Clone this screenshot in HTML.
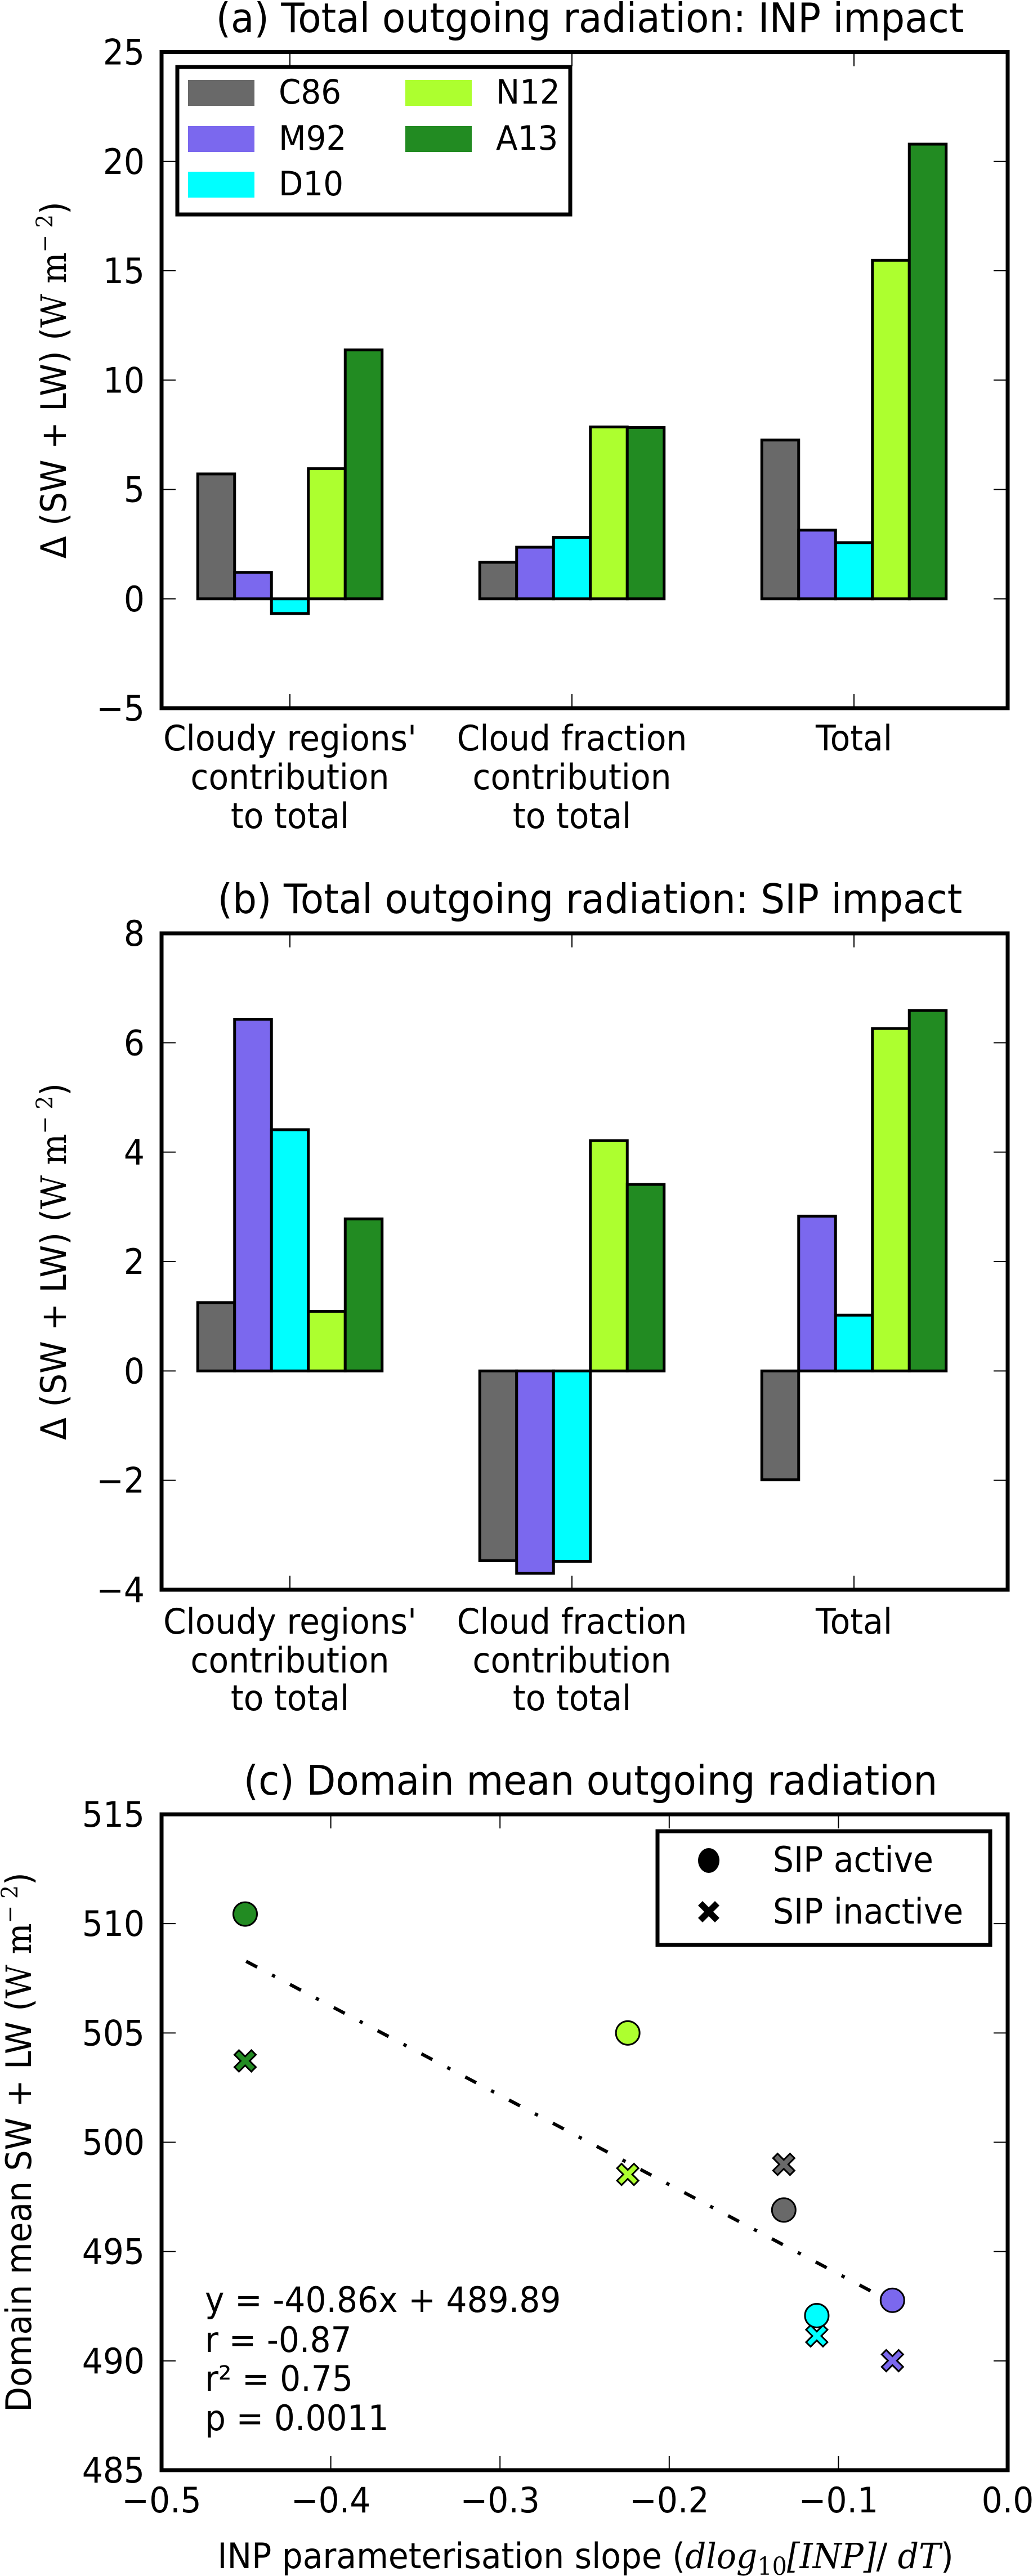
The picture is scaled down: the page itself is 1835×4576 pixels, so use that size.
<!DOCTYPE html>
<html><head><meta charset="utf-8">
<style>
html,body{margin:0;padding:0;background:#fff;}
svg{display:block;}
text{font-family:"DejaVu Sans","Liberation Sans",sans-serif;fill:#000;}
.serif{font-family:"DejaVu Serif","Liberation Serif",serif;font-style:italic;}
</style></head>
<body>
<svg id="fig" width="1835" height="4576" viewBox="0 0 1835 4576" xmlns="http://www.w3.org/2000/svg">
<g id="pa"></g>
<g id="pb"></g>
<g id="pc"></g>
</svg>
<script>
const schemes = ["C86","M92","D10","N12","A13"];
const colors = ["#696969","#7B68EE","#00FFFF","#ADFF2F","#228B22"];
const categories = [["Cloudy regions'","contribution","to total"],["Cloud fraction","contribution","to total"],["Total"]];
// Panel (a) values per category: [C86, M92, D10, N12, A13]
const inpCloudy = [5.71, 1.21, -0.67, 5.95, 11.38];
const inpFraction = [1.67, 2.36, 2.81, 7.86, 7.83];
const inpTotal = [7.26, 3.14, 2.57, 15.48, 20.79];
const inpTicks = [-5,0,5,10,15,20,25];
// Panel (b)
const sipCloudy = [1.25, 6.43, 4.41, 1.09, 2.78];
const sipFraction = [-3.47, -3.70, -3.48, 4.21, 3.41];
const sipTotal = [-1.99, 2.83, 1.02, 6.26, 6.59];
const sipTicks = [-4,-2,0,2,4,6,8];
// Panel (c)
const slopes = [-0.1323, -0.0681, -0.1128, -0.2245, -0.4506];
const sipActive = [496.9, 492.77, 492.07, 505.0, 510.44];
const sipInactive = [498.99, 490.01, 491.14, 498.53, 503.72];
const fitSlope = -40.86, fitIntercept = 489.89;
const fitRange = [-0.45, -0.068];
const cYTicks = [485,490,495,500,505,510,515];
const cXTicks = [-0.5,-0.4,-0.3,-0.2,-0.1,0.0];
const cXTickLabels = ["\u22120.5","\u22120.4","\u22120.3","\u22120.2","\u22120.1","0.0"];
const statLines = ["y = -40.86x + 489.89","r = -0.87","r\u00b2 = 0.75","p = 0.0011"];

const NS="http://www.w3.org/2000/svg";
const SX=0.94;
function mk(parent,tag,attrs,txt){const e=document.createElementNS(NS,tag);for(const k in attrs)e.setAttribute(k,attrs[k]);if(txt!==undefined)e.textContent=txt;parent.appendChild(e);return e;}
function tx(parent,x,y,size,anchor,str){
  return mk(parent,'text',{x:0,y:0,'font-size':size,'text-anchor':anchor,transform:`translate(${x},${y}) scale(${SX},1)`},str);
}
const L=287,R=1790;

function ylabelBar(g,cy){
  const t=mk(g,'text',{x:0,y:0,'font-size':62,'text-anchor':'middle',transform:`translate(117,${cy}) rotate(-90) scale(${SX},1)`});
  
  
  mk(t,'tspan',{},'\u0394 (SW + LW)  (');
  mk(t,'tspan',{'font-family':'DejaVu Serif, Liberation Serif, serif'},'W  m');
  mk(t,'tspan',{'font-family':'DejaVu Serif, Liberation Serif, serif','font-size':40,dy:-24},'\u2212 2');
  mk(t,'tspan',{dy:24},')');
}

function barPanel(g,title,titleY,top,bottom,ymin,ymax,ticks,series,labelYs,withLegend){
  const y=v=>top+(ymax-v)/(ymax-ymin)*(bottom-top);
  const tt=tx(g,1048,titleY,72,'middle',title);
  
  
  const centers=[515,1016,1517], bw=65.5;
  series.forEach((vals,ci)=>{
    vals.forEach((v,si)=>{
      const x0=centers[ci]-2.5*bw+si*bw;
      const r=mk(g,'rect',{x:x0,y:Math.min(y(v),y(0)),width:bw,height:Math.abs(y(v)-y(0)),fill:colors[si],stroke:'#000','stroke-width':5});
      
      
    });
    categories[ci].forEach((line,li)=>{
      const t=tx(g,centers[ci],labelYs[li],62,'middle',line);
      
      
    });
    mk(g,'line',{x1:centers[ci],x2:centers[ci],y1:top,y2:top+25,stroke:'#000','stroke-width':2});
    mk(g,'line',{x1:centers[ci],x2:centers[ci],y1:bottom,y2:bottom-25,stroke:'#000','stroke-width':2});
  });
  ticks.forEach(v=>{
    const yy=y(v);
    mk(g,'line',{x1:L,x2:L+25,y1:yy,y2:yy,stroke:'#000','stroke-width':2});
    mk(g,'line',{x1:R,x2:R-25,y1:yy,y2:yy,stroke:'#000','stroke-width':2});
    const t=tx(g,257,yy+22,62,'end',v<0?'\u2212'+Math.abs(v):String(v));
    
    
  });
  const fr=mk(g,'rect',{x:L,y:top,width:R-L,height:bottom-top,fill:'none',stroke:'#000','stroke-width':7});
  
  
  ylabelBar(g,(top+bottom)/2);
  if(withLegend){
    const lg=mk(g,'g',{});
    
    
    mk(lg,'rect',{x:315,y:119,width:698,height:262,fill:'#fff',stroke:'#000','stroke-width':7});
    const pos=[[334,142],[334,224],[334,305],[720,142],[720,224]];
    schemes.forEach((s,i)=>{
      const e=mk(lg,'g',{});
      
      
      mk(e,'rect',{x:pos[i][0],y:pos[i][1],width:118,height:46,fill:colors[i]});
      tx(e,pos[i][0]+161,pos[i][1]+42,60,'start',s);
    });
  }
}

barPanel(document.getElementById('pa'),'(a) Total outgoing radiation: INP impact',57,92.5,1258,-5,25,inpTicks,[inpCloudy,inpFraction,inpTotal],[1333,1402,1471],true);
barPanel(document.getElementById('pb'),'(b) Total outgoing radiation: SIP impact',1622,1658,2824,-4,8,sipTicks,[sipCloudy,sipFraction,sipTotal],[2902,2971,3038],false);

// Panel c
(function(){
  const g=document.getElementById('pc');
  const top=3223,bottom=4388;
  const xs=v=>L+(v+0.5)/0.5*(R-L);
  const ys=v=>top+(515-v)/30*(bottom-top);
  const tt=tx(g,1049,3188,72,'middle','(c) Domain mean outgoing radiation');
  
  
  cYTicks.forEach(v=>{
    const yy=ys(v);
    mk(g,'line',{x1:L,x2:L+25,y1:yy,y2:yy,stroke:'#000','stroke-width':2});
    mk(g,'line',{x1:R,x2:R-25,y1:yy,y2:yy,stroke:'#000','stroke-width':2});
    const t=tx(g,257,yy+22,62,'end',String(v));
    
    
  });
  cXTicks.forEach((v,i)=>{
    const xx=xs(v);
    mk(g,'line',{x1:xx,x2:xx,y1:top,y2:top+25,stroke:'#000','stroke-width':2});
    mk(g,'line',{x1:xx,x2:xx,y1:bottom,y2:bottom-25,stroke:'#000','stroke-width':2});
    const t=tx(g,xx,4463,62,'middle',cXTickLabels[i]);
    
    
  });
  const fit=mk(g,'line',{x1:xs(fitRange[0]),y1:ys(fitSlope*fitRange[0]+fitIntercept),x2:xs(fitRange[1]),y2:ys(fitSlope*fitRange[1]+fitIntercept),stroke:'#000','stroke-width':6,'stroke-dasharray':'22,30,6,30'});
  
  
  const xPath=(cx,cy,s)=>{const a=s*0.42,b=s;return `M${cx-b},${cy-b+a}L${cx-b+a},${cy-b}L${cx},${cy-a}L${cx+b-a},${cy-b}L${cx+b},${cy-b+a}L${cx+a},${cy}L${cx+b},${cy+b-a}L${cx+b-a},${cy+b}L${cx},${cy+a}L${cx-b+a},${cy+b}L${cx-b},${cy+b-a}L${cx-a},${cy}Z`;};
  slopes.forEach((s,i)=>{
    const m=mk(g,'path',{d:xPath(xs(s),ys(sipInactive[i]),19),fill:colors[i],stroke:'#000','stroke-width':3,'stroke-linejoin':'miter'});
    
    
  });
  slopes.forEach((s,i)=>{
    const c=mk(g,'circle',{cx:xs(s),cy:ys(sipActive[i]),r:21,fill:colors[i],stroke:'#000','stroke-width':3});
    
    
  });
  const fr=mk(g,'rect',{x:L,y:top,width:R-L,height:bottom-top,fill:'none',stroke:'#000','stroke-width':7});
  
  
  const lg=mk(g,'g',{});
  
  
  mk(lg,'rect',{x:1168,y:3253,width:591,height:202,fill:'#fff',stroke:'#000','stroke-width':7});
  mk(lg,'ellipse',{cx:1259,cy:3305,rx:19,ry:22,fill:'#000'});
  mk(lg,'path',{d:xPath(1259,3396,19),fill:'#000'});
  tx(lg,1373,3325,62,'start','SIP active');
  tx(lg,1373,3417,62,'start','SIP inactive');
  const ty=[4107,4178,4247,4317];
  statLines.forEach((s,i)=>{
    const t=tx(g,364,ty[i],62,'start',s);
    
    
  });
  const xl=tx(g,1040,4562,62,'middle');
  
  
  mk(xl,'tspan',{},'INP parameterisation slope  (');
  mk(xl,'tspan',{'class':'serif'},'dlog');
  mk(xl,'tspan',{'font-family':'DejaVu Serif, serif','font-size':44,dy:12},'10');
  mk(xl,'tspan',{'class':'serif',dy:-12},'[INP]');
  mk(xl,'tspan',{},'/ ');
  mk(xl,'tspan',{'class':'serif'},'dT');
  mk(xl,'tspan',{},')');
  const yl=mk(g,'text',{x:0,y:0,'font-size':62,'text-anchor':'middle',transform:`translate(55,${(top+bottom)/2}) rotate(-90) scale(${SX},1)`});
  
  
  mk(yl,'tspan',{},'Domain mean SW + LW  (');
  mk(yl,'tspan',{'font-family':'DejaVu Serif, Liberation Serif, serif'},'W  m');
  mk(yl,'tspan',{'font-family':'DejaVu Serif, Liberation Serif, serif','font-size':40,dy:-24},'\u2212 2');
  mk(yl,'tspan',{dy:24},')');
})();
</script>
</body></html>
